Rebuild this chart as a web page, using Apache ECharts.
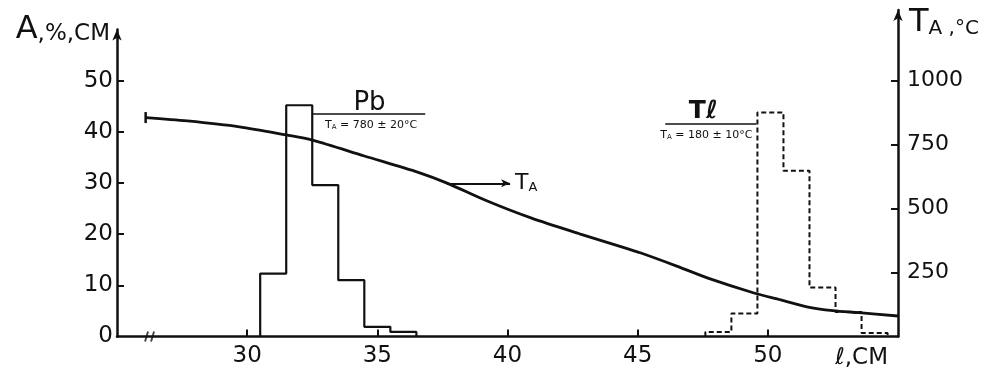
<!DOCTYPE html>
<html>
<head>
<meta charset="utf-8">
<script src="https://cdn.jsdelivr.net/npm/echarts@6/dist/echarts.min.js"></script>
<style>
    html, body { margin: 0; padding: 0; background: #fff; }
    #main { width: 989px; height: 374px; }
</style>
</head>
<body>
<div id="main"></div>
<script>
// tick labels
var xTicks = [30, 35, 40, 45, 50];
var aLabels = [0, 10, 20, 30, 40, 50];
var aTicks = [10, 20, 30, 40, 50];
var tTicks = [250, 500, 750, 1000];

// Pb histogram (solid), bin edges in cm and A in %/cm
var pbEdges = [30.5, 31.5, 32.5, 33.5, 34.5, 35.5, 36.5];
var pbValues = [12.3, 45.2, 29.6, 11, 1.9, 0.9];

// Tl histogram (dashed)
var tlEdges = [47.6, 48.6, 49.6, 50.6, 51.6, 52.6, 53.6, 54.6];
var tlValues = [0.9, 4.5, 43.8, 32.4, 9.6, 4.8, 0.7];

// temperature T_A along the length, right axis
var tLength = [26.1, 27.7, 29.7, 31.5, 32.5, 34.5, 36.6, 37.7, 39.2, 40.9, 42.8, 44.6, 45.1, 46.5, 47.7, 49.5, 50.5, 51.5, 52.5, 53.5, 55.0];
var tTemp = [855, 842, 819, 787, 767, 705, 640, 598, 530, 463, 400, 343, 327, 275, 228, 169, 143, 116, 101, 93, 80];

var ink = '#111';
var font = 'DejaVu Sans';

// outline of a histogram: steps over the bins, down to zero at both ends
function outline(edges, values) {
    var pts = [[edges[0], 0]];
    for (var i = 0; i < values.length; i++) {
        pts.push([edges[i], values[i]]);
        pts.push([edges[i + 1], values[i]]);
    }
    pts.push([edges[edges.length - 1], 0]);
    return pts;
}

var tData = [];
for (var i = 0; i < tLength.length; i++) {
    var p = {value: [tLength[i], tTemp[i]]};
    if (i === 0) {
        p.symbol = 'rect';
        p.symbolSize = [2.5, 11];
    }
    tData.push(p);
}

var subRich = {
    s: {fontSize: 11, fontFamily: font, color: ink},
    sub: {fontSize: 7, fontFamily: font, color: ink, verticalAlign: 'bottom', padding: [4, 0, 0, 0]}
};

var myChart = echarts.init(document.getElementById('main'));

var option = {
    animation: false,
    backgroundColor: '#fff',
    grid: [
        {left: 117, right: 91, top: 29.5, bottom: 37.5},
        {left: 117, right: 91, top: 10, bottom: 37.5}
    ],
    xAxis: [{
        gridIndex: 0,
        type: 'value',
        min: 25,
        max: 55,
        interval: 5,
        name: 'ℓ,CM',
        nameLocation: 'end',
        nameGap: 0,
        nameTextStyle: {
            color: ink, fontFamily: font, fontSize: 23,
            align: 'right', verticalAlign: 'top', padding: [10, 10, 0, 0]
        },
        axisLine: {onZero: false, lineStyle: {color: ink, width: 2.5}},
        axisTick: {inside: true, length: 7, lineStyle: {color: ink, width: 2}, customValues: xTicks},
        axisLabel: {color: ink, fontFamily: font, fontSize: 23, margin: 8, customValues: xTicks},
        splitLine: {show: false}
    }, {
        gridIndex: 1,
        type: 'value',
        min: 25,
        max: 55,
        show: false
    }],
    yAxis: [{
        gridIndex: 0,
        type: 'value',
        min: 0,
        max: 60,
        interval: 10,
        name: '{big|A}{n|,%,CM}',
        nameLocation: 'end',
        nameGap: 0,
        nameTextStyle: {
            align: 'right', verticalAlign: 'middle', padding: [0, 7, 0, 0],
            rich: {
                big: {fontSize: 32, fontFamily: font, color: ink},
                n: {fontSize: 23, fontFamily: font, color: ink, verticalAlign: 'bottom'}
            }
        },
        axisLine: {show: true, onZero: false, symbol: ['none', 'arrow'], symbolSize: [7, 11], lineStyle: {color: ink, width: 2.5}},
        axisTick: {inside: true, length: 7, lineStyle: {color: ink, width: 2}, customValues: aTicks},
        axisLabel: {color: ink, fontFamily: font, fontSize: 23, margin: 4, customValues: aLabels},
        splitLine: {show: false}
    }, {
        gridIndex: 1,
        type: 'value',
        position: 'right',
        min: 0,
        max: 1275,
        interval: 250,
        name: '{t|T}{a|A}{r| ,°C}',
        nameLocation: 'end',
        nameGap: -13,
        nameTextStyle: {
            align: 'left', verticalAlign: 'middle', padding: [0, 0, 0, 11],
            rich: {
                t: {fontSize: 32, fontFamily: font, color: ink},
                a: {fontSize: 20, fontFamily: font, color: ink, verticalAlign: 'bottom'},
                r: {fontSize: 20, fontFamily: font, color: ink, verticalAlign: 'bottom'}
            }
        },
        axisLine: {show: true, onZero: false, symbol: ['none', 'arrow'], symbolSize: [7, 11], lineStyle: {color: ink, width: 2.5}},
        axisTick: {inside: true, length: 7, lineStyle: {color: ink, width: 2}, customValues: tTicks},
        axisLabel: {
            color: ink, fontFamily: font, fontSize: 22, margin: 9, customValues: tTicks,
            formatter: function (v) { return String(v); }
        },
        splitLine: {show: false}
    }],
    series: [
        {
            name: 'Pb',
            type: 'line',
            xAxisIndex: 0,
            yAxisIndex: 0,
            data: outline(pbEdges, pbValues),
            symbol: 'none',
            lineStyle: {color: ink, width: 2.2},
            markLine: {
                silent: true,
                symbol: 'none',
                label: {show: false},
                lineStyle: {color: ink, width: 1.5, type: 'solid'},
                data: [[{coord: [32.53, 43.46]}, {coord: [36.84, 43.46]}]]
            },
            markPoint: {
                silent: true,
                symbol: 'circle',
                symbolSize: 0,
                data: [
                    {coord: [34.7, 45.6], label: {show: true, position: 'inside', formatter: 'Pb', fontSize: 26, fontFamily: font, color: ink}},
                    {coord: [34.76, 41.3], label: {show: true, position: 'inside', formatter: '{s|T}{sub|A}{s| = 780 ± 20°C}', rich: subRich}}
                ]
            }
        },
        {
            name: 'Tl',
            type: 'line',
            xAxisIndex: 0,
            yAxisIndex: 0,
            data: outline(tlEdges, tlValues),
            symbol: 'none',
            lineStyle: {color: ink, width: 2, type: [5, 3]},
            markLine: {
                silent: true,
                symbol: 'none',
                label: {show: false},
                lineStyle: {color: ink, width: 1.5, type: 'solid'},
                data: [[{coord: [46.06, 41.5]}, {coord: [49.56, 41.5]}]]
            },
            markPoint: {
                silent: true,
                symbol: 'circle',
                symbolSize: 0,
                data: [
                    {coord: [47.52, 43.9], label: {show: true, position: 'inside', formatter: 'Tℓ', fontSize: 25, fontWeight: 'bold', fontFamily: font, color: ink}},
                    {coord: [47.64, 39.3], label: {show: true, position: 'inside', formatter: '{s|T}{sub|A}{s| = 180 ± 10°C}', rich: subRich}}
                ]
            }
        },
        {
            name: 'break',
            type: 'scatter',
            xAxisIndex: 0,
            yAxisIndex: 0,
            silent: true,
            data: [[26.25, 0]],
            symbol: 'path://M0,10 L3,0 M6,10 L9,0',
            symbolSize: [9, 10],
            itemStyle: {color: 'none', borderColor: ink, borderWidth: 2}
        },
        {
            name: 'TA',
            type: 'line',
            xAxisIndex: 1,
            yAxisIndex: 1,
            data: tData,
            smooth: 0.3,
            symbol: 'none',
            showSymbol: true,
            itemStyle: {color: ink},
            lineStyle: {color: ink, width: 2.8},
            markLine: {
                silent: true,
                symbol: ['none', 'arrow'],
                symbolSize: [6, 9],
                lineStyle: {color: ink, width: 2, type: 'solid'},
                label: {
                    show: true,
                    position: 'end',
                    distance: 5,
                    formatter: '{t|T}{a|A}',
                    rich: {
                        t: {fontSize: 22, fontFamily: font, color: ink},
                        a: {fontSize: 13, fontFamily: font, color: ink, verticalAlign: 'bottom', padding: [6, 0, 0, 0]}
                    }
                },
                data: [[{coord: [37.67, 598]}, {coord: [40.1, 598]}]]
            }
        }
    ]
};

myChart.setOption(option);
</script>
</body>
</html>
